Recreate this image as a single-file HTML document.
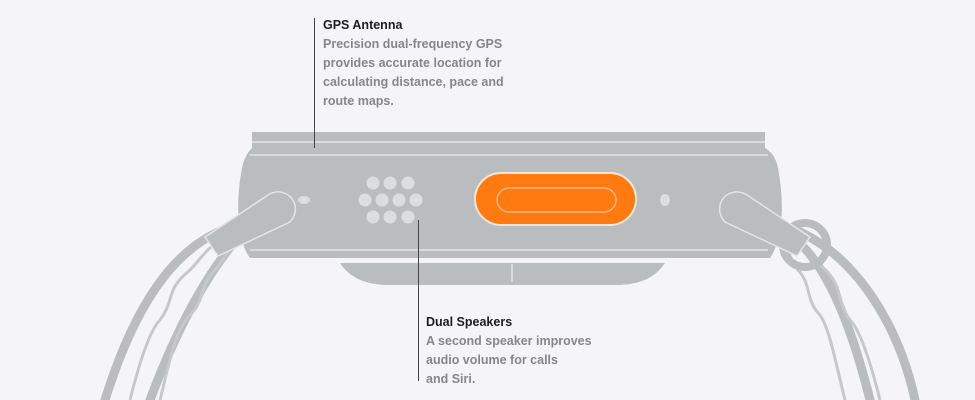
<!DOCTYPE html><html><head><style>
html,body{margin:0;padding:0;background:#f5f5f7;}
.t{position:absolute;font-family:"Liberation Sans",sans-serif;font-size:12.5px;line-height:19px;color:#86868b;font-weight:600;}
.t b{color:#1d1d1f;font-weight:600;}
</style></head><body>
<div style="position:relative;width:975px;height:400px;overflow:hidden;">
<svg width="975" height="400" style="position:absolute;left:0;top:0">
<g fill="none" stroke="#babdc0" stroke-width="9" stroke-linecap="round">
<path d="M105,400 C130,320 170,240 240,225"/>
<path d="M150,400 C180,320 210,270 240,235"/>
<path d="M870,400 C850,320 820,240 770,225"/>
<path d="M915,400 C900,330 860,260 800,232"/>
</g>
<g fill="none" stroke="#c6c8cb" stroke-width="3">
<path d="M130,400 C140,360 150,330 160,320 C175,300 165,290 190,270 C200,260 205,250 220,240"/>
<path d="M160,400 C170,360 175,330 190,315 C205,300 200,285 215,270 C225,260 225,250 240,240"/>
<path d="M845,400 C835,360 830,330 820,315 C805,300 812,285 798,270 C790,260 790,250 780,240"/>
<path d="M880,400 C870,360 860,330 850,320 C835,300 845,285 820,265"/>
</g>
<circle cx="805" cy="245" r="22" fill="none" stroke="#babdc0" stroke-width="8"/>
<path d="M252,132 H765 V148 C772,152 776,158 778,168 C784,200 784,238 770,258 H250 C236,238 236,200 242,168 C244,158 248,152 252,148 Z" fill="#babdc0"/>
<line x1="252" y1="142" x2="765" y2="142" stroke="#e3e4e6" stroke-width="1.5"/>
<line x1="250" y1="155" x2="768" y2="155" stroke="#e3e4e6" stroke-width="1.5"/>
<line x1="250" y1="250" x2="768" y2="250" stroke="#e3e4e6" stroke-width="1.5"/>
<path d="M340,263 H665 C655,278 640,284 620,285 H385 C365,284 350,278 340,263 Z" fill="#babdc0"/>
<line x1="512" y1="264" x2="512" y2="282" stroke="#e3e4e6" stroke-width="1.5"/>
<path d="M218,256 L205,237 L268,195 C286,184 305,205 290,222 Z" fill="#babdc0" stroke="#e3e4e6" stroke-width="1.5"/>
<path d="M797,256 L810,237 L747,195 C729,184 710,205 725,222 Z" fill="#babdc0" stroke="#e3e4e6" stroke-width="1.5"/>
<rect x="475" y="173" width="161" height="52" rx="26" fill="#ff7a10" stroke="#f3e6da" stroke-width="2"/>
<rect x="497" y="188" width="119" height="24" rx="12" fill="none" stroke="#ffb77a" stroke-width="1.5"/>
<g fill="#dcdde0">
<circle cx="373" cy="183" r="6.5"/><circle cx="390" cy="183" r="6.5"/><circle cx="408" cy="183" r="6.5"/>
<circle cx="365" cy="200" r="6.5"/><circle cx="382" cy="200" r="6.5"/><circle cx="399" cy="200" r="6.5"/><circle cx="416" cy="200" r="6.5"/>
<circle cx="373" cy="217" r="6.5"/><circle cx="390" cy="217" r="6.5"/><circle cx="408" cy="217" r="6.5"/>
<ellipse cx="304" cy="200" rx="6" ry="4"/><ellipse cx="665" cy="200" rx="5" ry="6"/>
</g>
<line x1="314.5" y1="18" x2="314.5" y2="148" stroke="#444" stroke-width="1"/>
<line x1="418.5" y1="220" x2="418.5" y2="381" stroke="#444" stroke-width="1"/>
</svg>
<div class="t" style="left:323px;top:16px"><b>GPS Antenna</b><br>Precision dual-frequency GPS<br>provides accurate location for<br>calculating distance, pace and<br>route maps.</div>
<div class="t" style="left:426px;top:313px"><b>Dual Speakers</b><br>A second speaker improves<br>audio volume for calls<br>and Siri.</div>
</div>
</body></html>
